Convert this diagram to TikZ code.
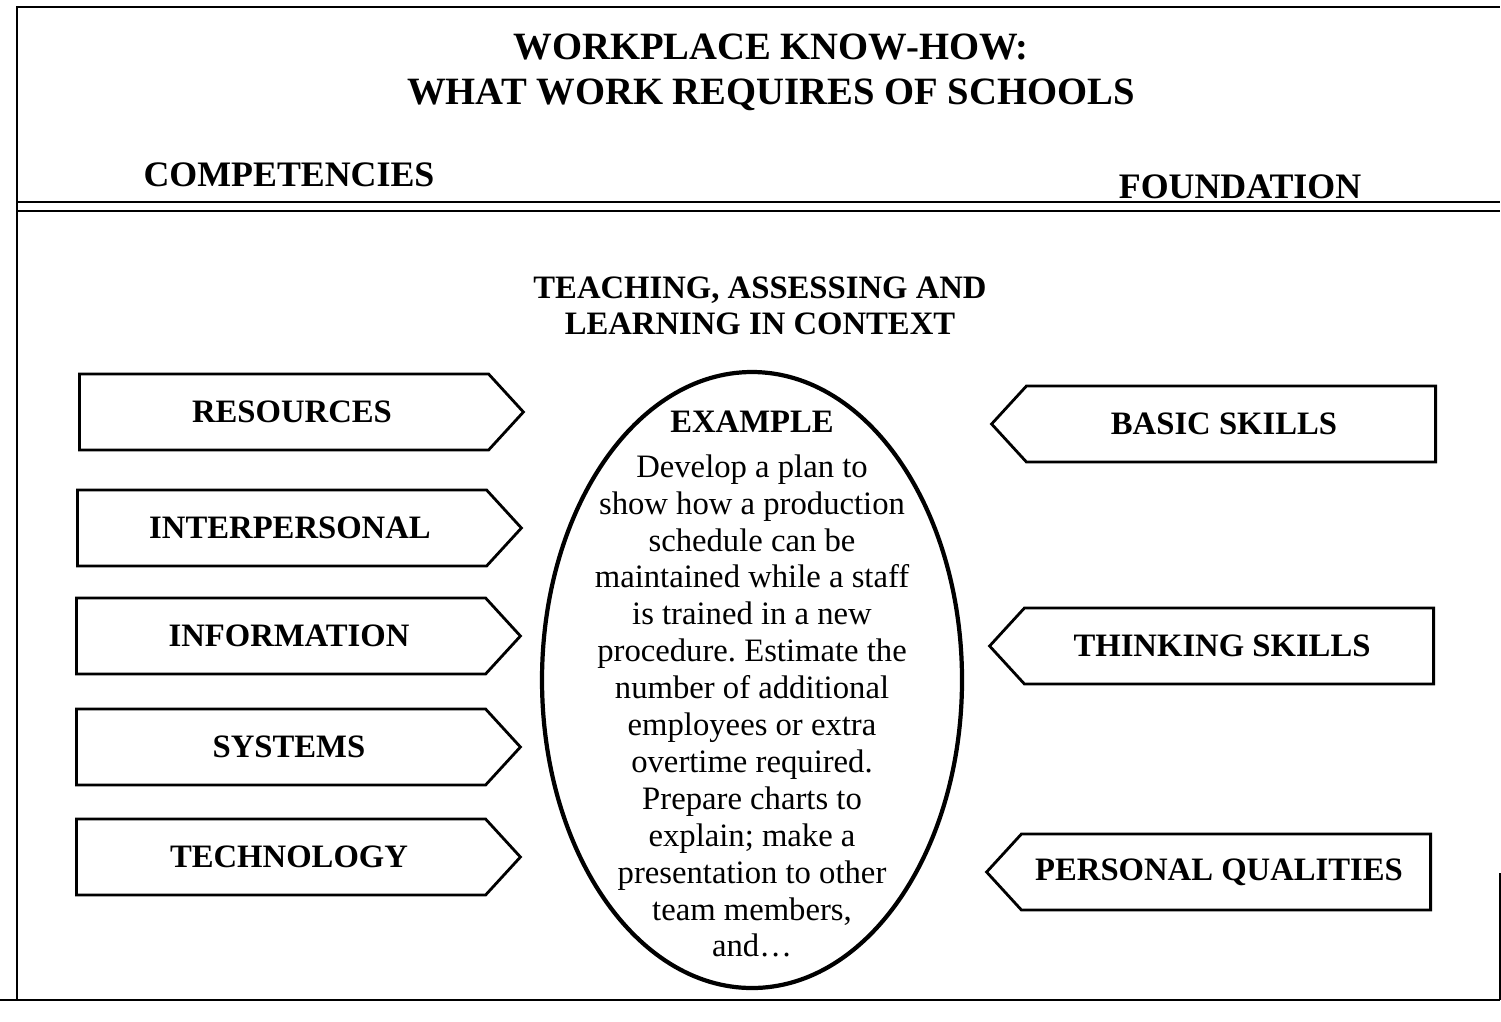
\documentclass[tikz,border=0pt]{standalone}
\usepackage{fontspec}
\setmainfont{Liberation Serif}
\usepackage{tikz}
\usetikzlibrary{positioning}
\usetikzlibrary{shapes.geometric}
\usetikzlibrary{shapes.symbols}
\frenchspacing

\tikzset{
	skillbox/.style={draw,thick,signal,signal pointer angle=95,signal from=nowhere,
		minimum width=44.4mm,minimum height=7.6mm,inner sep=0pt,
		font=\bfseries\fontsize{9.3}{11}\selectfont},
	compbox/.style={skillbox,signal to=east,anchor=west},
	foundbox/.style={skillbox,signal to=west,anchor=east},
	heading/.style={font=\bfseries\fontsize{10.2}{12}\selectfont},
}

\begin{document}
\begin{tikzpicture}[x=0.1mm,y=-0.1mm]
	\useasboundingbox (0,0) rectangle (1501,1021);
	% frame
	\draw[semithick] (17,1000) -- (17,7) -- (1500,7);
	\draw[thin] (0,1000) -- (1500,1000);
	\draw[thin] (1500,873) -- (1500,1000);
	\draw[thin] (17,202) -- (1500,202);
	\draw[thin] (17,211) -- (1500,211);
	% headings
	\node[align=center,font=\bfseries\fontsize{11}{12.8}\selectfont] (title) at (771,72) {WORKPLACE KNOW-HOW:\\WHAT WORK REQUIRES OF SCHOOLS};
	\node[heading] (competencies) at (289,175) {COMPETENCIES};
	\node[heading] (foundation) at (1240,187) {FOUNDATION};
	\node[align=center,font=\bfseries\fontsize{9.3}{10.2}\selectfont] (context) at (760,306) {TEACHING, ASSESSING AND\\LEARNING IN CONTEXT};
	% competencies
	\node[compbox] (resources) at (78,412) {\hspace{1.6mm}RESOURCES};
	\node[compbox] (interpersonal) at (76,528) {\hspace{1.6mm}INTERPERSONAL};
	\node[compbox] (information) at (75,636) {\hspace{1.6mm}INFORMATION};
	\node[compbox] (systems) at (75,747) {\hspace{1.6mm}SYSTEMS};
	\node[compbox] (technology) at (75,857) {\hspace{1.6mm}TECHNOLOGY};
	% foundation
	\node[foundbox] (basic) at (1437,424) {BASIC SKILLS\kern1.4mm\relax};
	\node[foundbox] (thinking) at (1435,646) {THINKING SKILLS\kern1.4mm\relax};
	\node[foundbox] (personal) at (1432,872) {PERSONAL QUALITIES\kern1.4mm\relax};
	% example
	\node[ellipse,draw,line width=1.2pt,minimum width=42mm,minimum height=61.6mm,inner sep=0pt] (example) at (752,680) {};
	\node[align=center,font=\fontsize{9.3}{10.5}\selectfont] (exampletext) at (752,684) {{\bfseries\fontsize{9.3}{10.5}\selectfont EXAMPLE}\\[2.3pt]
		Develop a plan to\\show how a production\\schedule can be\\maintained while a staff\\is trained in a new\\procedure. Estimate the\\number of additional\\employees or extra\\overtime required.\\Prepare charts to\\explain; make a\\presentation to other\\team members,\\and\ldots};
\end{tikzpicture}
\end{document}
